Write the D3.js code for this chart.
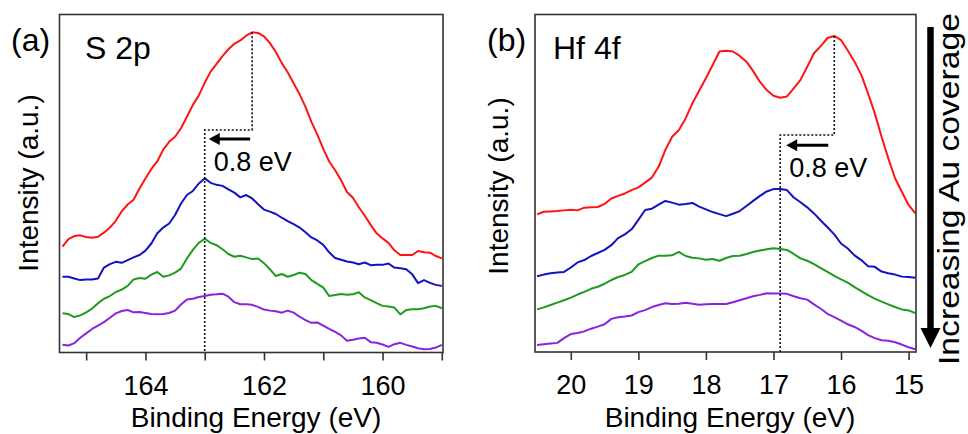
<!DOCTYPE html>
<html>
<head>
<meta charset="utf-8">
<script src="https://cdn.jsdelivr.net/npm/d3@7"></script>
<style>
  html, body { margin: 0; padding: 0; background: #fff; }
  svg { display: block; font-family: "Liberation Sans", Arial, sans-serif; }
</style>
</head>
<body>
<svg id="chart" width="968" height="434"></svg>
<script>
// ---- S 2p spectra (binding energy in eV, intensity in arbitrary units, offset stack) ----
const energyS2p = [165.4,165.3,165.2,165.1,165.0,164.9,164.8,164.7,164.6,164.5,
  164.4,164.3,164.2,164.1,164.0,163.9,163.8,163.7,163.6,163.5,
  163.4,163.3,163.2,163.1,163.0,162.9,162.8,162.7,162.6,162.5,
  162.4,162.3,162.2,162.1,162.0,161.9,161.8,161.7,161.6,161.5,
  161.4,161.3,161.2,161.1,161.0,160.9,160.8,160.7,160.6,160.5,
  160.4,160.3,160.2,160.1,160.0,159.9,159.8,159.7,159.6,159.5,
  159.4,159.3,159.2,159.1,159.0];
const s2pCoverage0 = [31.4,33.6,34.5,34.7,34.2,34.0,34.3,35.5,37.0,39.0,
  41.8,43.8,45.2,48.5,51.5,54.3,56.5,60.0,62.3,63.8,
  66.3,69.7,73.2,76.0,79.7,83.0,85.3,87.6,89.6,91.2,
  92.2,93.6,94.6,94.4,93.4,91.4,88.8,85.5,82.8,79.6,
  76.3,72.6,68.2,64.4,60.2,56.5,53.9,51.0,47.5,45.8,
  43.0,40.5,37.8,35.3,33.8,32.5,30.3,28.9,28.9,28.9,
  30.1,29.7,29.6,28.6,27.9];
const s2pCoverage1 = [22.5,22.5,22.0,21.5,21.7,21.7,22.0,25.2,26.2,26.9,
  26.6,27.4,28.2,28.9,30.2,32.3,35.3,37.0,38.2,40.7,
  44.1,46.6,47.8,50.0,51.5,50.2,49.6,49.3,48.3,47.3,
  45.9,46.6,45.6,43.9,42.3,41.7,41.0,39.9,38.9,38.0,
  37.0,35.6,34.1,33.2,31.9,29.7,28.0,27.5,27.0,26.7,
  26.2,26.7,25.9,26.0,26.0,26.4,25.2,25.0,24.7,23.2,
  20.6,21.5,20.7,20.1,19.8];
const s2pCoverage2 = [11.7,11.5,10.6,11.1,12.0,13.1,14.7,16.0,16.8,18.0,
  18.7,19.8,21.7,22.1,21.9,23.1,23.9,22.5,22.9,23.7,
  24.9,27.9,30.4,32.5,33.7,32.5,31.8,30.6,29.2,28.4,
  28.7,28.2,27.7,27.9,26.5,24.7,22.7,23.3,22.5,23.0,
  23.7,23.3,21.5,20.4,19.3,16.8,17.1,17.4,17.2,17.3,
  17.9,16.4,15.6,14.7,13.9,13.7,13.4,11.4,12.7,12.9,
  12.9,13.2,13.7,13.9,13.2];
const s2pCoverage3 = [2.4,2.2,2.9,4.5,5.8,7.1,8.1,9.1,10.4,11.7,
  12.4,12.7,12.0,12.1,11.8,11.5,11.4,11.5,11.8,12.5,
  14.3,15.8,16.0,16.5,16.8,17.2,17.3,17.5,16.6,15.0,
  14.4,14.4,14.2,13.6,12.8,12.5,12.3,11.9,12.5,11.9,
  10.7,9.7,8.9,9.0,8.1,7.1,6.2,5.2,3.6,3.9,
  4.3,4.5,3.2,3.0,2.5,1.8,2.6,3.0,2.4,1.9,
  1.4,1.1,1.2,1.6,2.4];

// ---- Hf 4f spectra ----
const energyHf4f = [20.5,20.4,20.3,20.2,20.1,20.0,19.9,19.8,19.7,19.6,
  19.5,19.4,19.3,19.2,19.1,19.0,18.9,18.8,18.7,18.6,
  18.5,18.4,18.3,18.2,18.1,18.0,17.9,17.8,17.7,17.6,
  17.5,17.4,17.3,17.2,17.1,17.0,16.9,16.8,16.7,16.6,
  16.5,16.4,16.3,16.2,16.1,16.0,15.9,15.8,15.7,15.6,
  15.5,15.4,15.3,15.2,15.1,15.0,14.9];
const hfCoverage0 = [40.7,41.5,41.6,41.7,41.9,
  42.1,41.9,42.7,42.8,42.9,43.8,45.4,46.2,46.9,47.9,
  48.7,50.1,51.6,54.8,59.8,63.7,65.7,69.1,73.6,77.3,
  81.0,84.9,88.9,89.1,88.9,87.6,85.9,83.1,79.9,77.5,
  75.8,75.2,75.6,78.0,80.5,84.4,88.4,90.5,92.9,93.5,
  92.3,89.2,85.9,82.0,76.5,70.6,63.7,57.3,51.4,47.4,
  43.5,41.0];
const hfCoverage1 = [22.4,22.9,23.3,23.5,23.7,
  25.0,26.5,27.2,28.4,29.3,30.2,31.6,33.7,34.8,36.3,
  39.1,42.0,42.4,43.6,44.7,44.2,43.6,43.8,44.1,43.0,
  42.2,41.4,40.8,40.2,40.9,41.7,43.2,44.7,46.2,47.5,
  48.2,48.2,47.9,45.7,44.3,42.8,41.0,38.9,36.9,34.8,
  32.1,30.6,28.6,27.2,25.4,25.2,23.8,23.3,22.9,22.3,
  22.2,22.0];
const hfCoverage2 = [12.6,13.2,13.9,14.6,15.3,
  16.1,17.0,17.8,18.7,19.3,20.2,21.3,22.2,22.8,23.7,
  25.9,26.9,27.8,28.5,28.5,28.6,29.6,28.4,27.9,27.7,
  27.3,27.5,27.0,27.8,28.4,28.5,29.0,29.6,30.0,30.4,
  30.7,30.5,30.2,29.0,27.7,27.0,26.0,24.8,23.7,22.5,
  21.5,20.5,19.2,18.0,16.8,15.8,14.9,14.1,13.3,12.6,
  12.3,11.5];
const hfCoverage3 = [2.1,2.3,2.5,2.7,4.1,
  5.3,5.6,6.1,6.9,7.5,8.2,9.8,10.3,10.5,10.8,
  11.8,12.4,13.3,13.9,14.4,14.2,14.3,14.6,14.3,14.0,
  14.1,14.2,14.2,14.2,14.7,15.3,15.9,16.5,16.9,17.4,
  17.3,17.3,17.2,16.5,15.9,15.5,14.1,12.8,11.3,10.3,
  9.3,8.2,7.4,6.3,5.0,4.1,3.5,3.3,2.9,2.2,
  1.4,0.8];

// ---- axis ticks ----
const s2pTicks = [165, 164, 163, 162, 161, 160, 159];
const s2pTickLabels = [164, 162, 160];
const hfTicks = [20, 19, 18, 17, 16, 15];

// ---- shared styling ----
const seriesColors = ["#ff1414", "#1212c4", "#1e9a1e", "#8a22e0"];
const peakShift = 0.8;   // eV, shift of the main peak with coverage

const svg = d3.select("#chart");

function drawPanel(cfg) {
  const g = svg.append("g");
  const x = d3.scaleLinear().domain(cfg.xDomain).range([cfg.left, cfg.right]);
  const y = d3.scaleLinear().domain([0, 100]).range([cfg.yBottom, cfg.yTop]);

  // spectra
  const line = d3.line().x(d => x(d[0])).y(d => y(d[1]));
  cfg.series.forEach((vals, i) => {
    g.append("path")
      .datum(cfg.energy.map((e, k) => [e, vals[k]]))
      .attr("d", line)
      .attr("fill", "none")
      .attr("stroke", seriesColors[i])
      .attr("stroke-width", 2)
      .attr("stroke-linejoin", "round");
  });

  // peak-shift guide: from the top-curve maximum down, across by 0.8 eV, down to the axis
  const top = cfg.series[0];
  const iPeak = d3.maxIndex(top);
  const ePeak = cfg.energy[iPeak];
  const eShift = ePeak + peakShift;
  const xp = x(ePeak), xs = x(eShift), ys = y(cfg.stepLevel);
  g.append("path")
    .attr("d", `M${xp},${y(top[iPeak])}V${ys}H${xs}V${cfg.frameBottom}`)
    .attr("fill", "none")
    .attr("stroke", "#111")
    .attr("stroke-width", 1.6)
    .attr("stroke-dasharray", "2,2");

  // arrow pointing towards higher binding energy
  const ay = y(cfg.arrowLevel);
  const ax0 = xp - cfg.arrowInset[0], ax1 = xs + cfg.arrowInset[1];
  g.append("line")
    .attr("x1", ax0).attr("y1", ay).attr("x2", ax1 + 9).attr("y2", ay)
    .attr("stroke", "#000").attr("stroke-width", 3);
  g.append("path")
    .attr("d", `M${ax1},${ay}L${ax1 + 11},${ay - 6}L${ax1 + 11},${ay + 6}Z`)
    .attr("fill", "#000");
  g.append("text")
    .attr("x", xs + 9).attr("y", ay + 32)
    .attr("font-size", 27)
    .text(`${peakShift} eV`);

  // frame
  g.append("rect")
    .attr("x", cfg.left).attr("y", cfg.frameTop)
    .attr("width", cfg.right - cfg.left).attr("height", cfg.frameBottom - cfg.frameTop)
    .attr("fill", "none").attr("stroke", "#333").attr("stroke-width", 1.6);

  // bottom axis
  const axis = d3.axisBottom(x)
    .tickValues(cfg.ticks)
    .tickSize(8)
    .tickPadding(15)
    .tickFormat(d => cfg.tickLabels.includes(d) ? d : "");
  const ag = g.append("g")
    .attr("transform", `translate(0,${cfg.frameBottom})`)
    .call(axis);
  ag.select(".domain").remove();
  ag.selectAll(".tick line").attr("stroke", "#333").attr("stroke-width", 1.6);
  ag.selectAll(".tick text")
    .attr("font-size", 27)
    .attr("font-family", "Liberation Sans, Arial, sans-serif")
    .attr("fill", "#000");

  // axis titles
  g.append("text")
    .attr("x", cfg.xTitleX).attr("y", 427)
    .attr("text-anchor", "middle")
    .attr("font-size", 28)
    .text("Binding Energy (eV)");
  g.append("text")
    .attr("transform", `translate(${cfg.yTitleX},${cfg.yTitleY}) rotate(-90)`)
    .attr("text-anchor", "middle")
    .attr("font-size", 28)
    .text("Intensity (a.u.)");

  // panel letter and core level
  g.append("text").attr("x", cfg.letterX).attr("y", 51)
    .attr("font-size", 32).text(cfg.letter);
  g.append("text").attr("x", cfg.levelX).attr("y", 59)
    .attr("font-size", 32).text(cfg.level);
}

drawPanel({
  energy: energyS2p,
  series: [s2pCoverage0, s2pCoverage1, s2pCoverage2, s2pCoverage3],
  xDomain: [165.45, 158.98],
  left: 59.5, right: 443, frameTop: 14.5, frameBottom: 352.5,
  yTop: 14, yBottom: 353,
  ticks: s2pTicks, tickLabels: s2pTickLabels,
  stepLevel: 65.8, arrowLevel: 63.1, arrowInset: [2, 4],
  xTitleX: 256, yTitleX: 38, yTitleY: 183,
  letter: "(a)", letterX: 11, level: "S 2p", levelX: 85
});

drawPanel({
  energy: energyHf4f,
  series: [hfCoverage0, hfCoverage1, hfCoverage2, hfCoverage3],
  xDomain: [20.53, 14.89],
  left: 535, right: 916, frameTop: 14.5, frameBottom: 352,
  yTop: 14, yBottom: 352,
  ticks: hfTicks, tickLabels: hfTicks,
  stepLevel: 64.2, arrowLevel: 61.2, arrowInset: [6, 6],
  xTitleX: 730, yTitleX: 508, yTitleY: 186,
  letter: "(b)", letterX: 487, level: "Hf 4f", levelX: 553
});

// coverage direction indicator
svg.append("line")
  .attr("x1", 930.5).attr("y1", 27).attr("x2", 930.5).attr("y2", 330)
  .attr("stroke", "#000").attr("stroke-width", 6.5);
svg.append("path")
  .attr("d", "M920.5,328L940.5,328L930.5,348Z")
  .attr("fill", "#000");
svg.append("text")
  .attr("transform", "translate(959,189) rotate(-90)")
  .attr("text-anchor", "middle")
  .attr("font-size", 29)
  .attr("textLength", 352)
  .attr("lengthAdjust", "spacingAndGlyphs")
  .text("Increasing Au coverage");
</script>
</body>
</html>
